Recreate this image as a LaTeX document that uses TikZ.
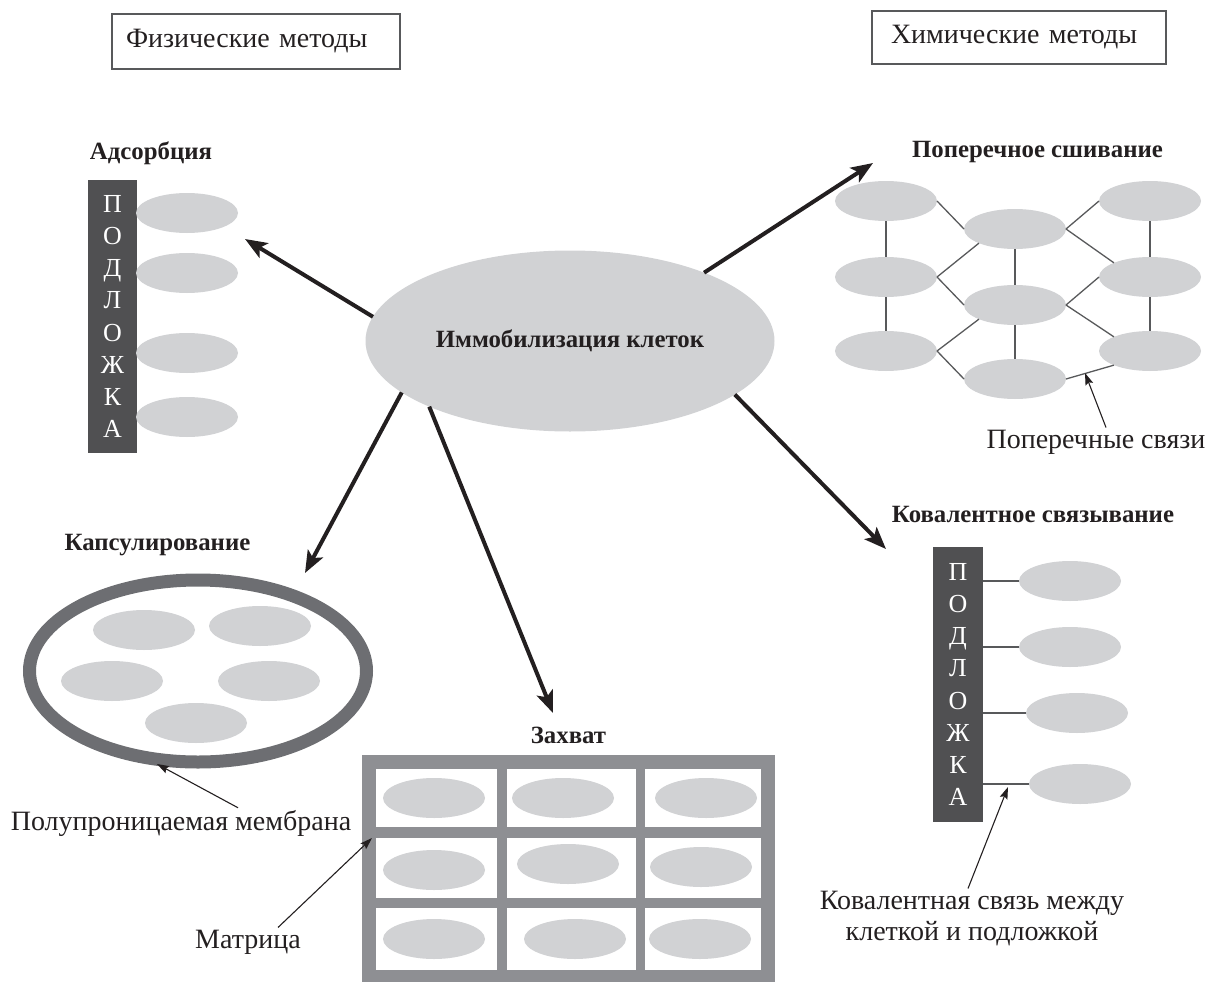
\documentclass[tikz,border=0pt]{standalone}
\usepackage{fontspec}
\setmainfont{Liberation Serif}
\usetikzlibrary{shapes.geometric,arrows.meta}
\definecolor{cellgray}{HTML}{D1D2D4}
\definecolor{bargray}{HTML}{505052}
\definecolor{ringgray}{HTML}{6D6E72}
\definecolor{framegray}{HTML}{8E8F93}
\definecolor{linegray}{HTML}{58595B}
\definecolor{ink}{HTML}{231F20}
\tikzset{
  cell/.style={ellipse, fill=cellgray, minimum width=102pt, minimum height=40pt, inner sep=0pt, outer sep=0pt},
  subbar/.style={rectangle, fill=bargray, text=white, align=center, inner sep=0pt, outer sep=0pt,
    font=\fontsize{26}{32.2}\selectfont},
  methodbox/.style={rectangle, draw=linegray, line width=1.2pt, align=left, inner ysep=0pt,
    font=\fontsize{28}{31}\selectfont, text=ink},
  head/.style={font=\fontsize{24.8}{30}\selectfont\bfseries, text=ink, inner sep=2pt},
  lab/.style={font=\fontsize{28}{31}\selectfont, text=ink, inner sep=2pt},
  net/.style={draw=linegray, line width=1.3pt},
  bigarrow/.style={draw=ink, line width=4pt, -{Stealth[length=22pt,width=17pt,inset=5pt]}},
  thinarrow/.style={draw=ink, line width=1.1pt, -{Stealth[length=12pt,width=8pt,inset=2pt]}},
  wcell/.style={rectangle, fill=white, inner sep=0pt, outer sep=0pt}
}
\begin{document}
\begin{tikzpicture}[x=1pt,y=-1pt]
\useasboundingbox (0,0) rectangle (1207,982);

% method boxes
\node[methodbox, text width=260pt, inner xsep=14pt, minimum height=55pt] (phys) at (256,41.5) {Физические методы};
\node[methodbox, text width=256pt, inner xsep=19pt, minimum height=53pt] (chem) at (1019,37.5) {Химические методы};

% central ellipse
\node[ellipse, fill=cellgray, minimum width=409pt, minimum height=181pt, inner sep=0pt, outer sep=0pt,
  font=\fontsize{24.8}{30}\selectfont\bfseries, text=ink] (main) at (570,341) {Иммобилизация клеток};

% ---------- Adsorption ----------
\node[head, anchor=base] (hAds) at (151,159) {Адсорбция};
\node[subbar, minimum width=49pt, minimum height=273pt] (bar1) at (112.5,316.5) {П\\О\\Д\\Л\\О\\Ж\\К\\А};
\node[cell] (a1) at (187,213) {};
\node[cell] (a2) at (187,273) {};
\node[cell] (a3) at (187,353) {};
\node[cell] (a4) at (187,417) {};

% ---------- Cross-linking ----------
\node[head, anchor=base] (hCross) at (1037.5,157) {Поперечное сшивание};
\node[cell] (c11) at (886,201) {};
\node[cell] (c12) at (886,277) {};
\node[cell] (c13) at (886,351) {};
\node[cell] (c21) at (1015,229) {};
\node[cell] (c22) at (1015,305) {};
\node[cell] (c23) at (1015,379) {};
\node[cell] (c31) at (1150,201) {};
\node[cell] (c32) at (1150,277) {};
\node[cell] (c33) at (1150,351) {};
\draw[net] (c11.south) -- (c12.north);
\draw[net] (c12.south) -- (c13.north);
\draw[net] (c21.south) -- (c22.north);
\draw[net] (c22.south) -- (c23.north);
\draw[net] (c31.south) -- (c32.north);
\draw[net] (c32.south) -- (c33.north);
\draw[net] (c11.east) -- (c21.west);
\draw[net] (c21.east) -- (c31.west);
\draw[net] (c12.east) -- (c21.south west);
\draw[net] (c21.east) -- (c32.north west);
\draw[net] (c12.east) -- (c22.west);
\draw[net] (c22.east) -- (c32.west);
\draw[net] (c13.east) -- (c22.south west);
\draw[net] (c22.east) -- (c33.north west);
\draw[net] (c13.east) -- (c23.west);
\draw[net] (c23.east) -- (c33.south west);
\node[lab, anchor=base] (lblCross) at (1096,448) {Поперечные связи};
\coordinate (tLink) at (1085,373);
\draw[thinarrow] ([xshift=10pt]lblCross.north) -- (tLink);

% ---------- Encapsulation ----------
\node[head, anchor=base] (hCaps) at (157.5,550) {Капсулирование};
\node[ellipse, draw=ringgray, line width=13pt, minimum width=337pt, minimum height=182pt, inner sep=0pt] (capsule) at (198,671) {};
\node[cell] (e1) at (144,630) {};
\node[cell] (e2) at (260,626) {};
\node[cell] (e3) at (112,681) {};
\node[cell] (e4) at (269,681) {};
\node[cell] (e5) at (196,723) {};
\node[lab, anchor=base] (lblMem) at (181,830) {Полупроницаемая мембрана};
\coordinate (tMem) at (157,764);
\draw[thinarrow] ([xshift=57pt]lblMem.north) -- (tMem);

% ---------- Entrapment ----------
\node[head, anchor=base] (hTrap) at (568.5,743) {Захват};
\node[rectangle, fill=framegray, minimum width=413pt, minimum height=227pt, inner sep=0pt] (mtx) at (568.5,868.5) {};
\foreach \cx/\w [count=\i] in {436.5/121, 571.5/129, 703/116}{
  \foreach \cy/\h [count=\j] in {798/58, 868/60, 939/62}{
    \node[wcell, minimum width=\w pt, minimum height=\h pt] (w\j\i) at (\cx,\cy) {};
  }
}
\node[cell] (m11) at (434,798) {};
\node[cell] (m12) at (563,798) {};
\node[cell] (m13) at (706,798) {};
\node[cell] (m21) at (434,870) {};
\node[cell] (m22) at (568,864) {};
\node[cell] (m23) at (701,867) {};
\node[cell] (m31) at (434,939) {};
\node[cell] (m32) at (575,939) {};
\node[cell] (m33) at (700,939) {};
\node[lab, anchor=base] (lblMat) at (248,948) {Матрица};
\coordinate (tMat) at (372,838);
\draw[thinarrow] ([xshift=30pt]lblMat.north) -- (tMat);

% ---------- Covalent binding ----------
\node[head, anchor=base] (hCov) at (1033,522) {Ковалентное связывание};
\node[subbar, minimum width=50pt, minimum height=275pt] (bar2) at (958,684.5) {П\\О\\Д\\Л\\О\\Ж\\К\\А};
\node[cell] (v1) at (1070,581) {};
\node[cell] (v2) at (1070,647) {};
\node[cell] (v3) at (1077,713) {};
\node[cell] (v4) at (1080,784) {};
\foreach \v in {v1,v2,v3,v4}{
  \draw[net] (\v.west) -- (\v.west -| bar2.east);
}
\node[lab, align=center, anchor=north] (lblCov) at (972,888.5) {Ковалентная связь между\\клеткой и подложкой};
\coordinate (tCovLink) at (1008,787);
\draw[thinarrow] ([xshift=-4pt]lblCov.north) -- (tCovLink);

% ---------- main arrows ----------
\coordinate (tAds) at (245,239);
\coordinate (tCross) at (873,163);
\coordinate (tCaps) at (305,573);
\coordinate (tTrap) at (553,713);
\coordinate (tCov) at (886,549);
\draw[bigarrow] (main.173) -- (tAds);
\draw[bigarrow] (main.27) -- (tCross);
\draw[bigarrow] (main.197) -- (tCaps);
\draw[bigarrow] (main.205) -- (tTrap);
\draw[bigarrow] (main.342) -- (tCov);
\end{tikzpicture}
\end{document}
